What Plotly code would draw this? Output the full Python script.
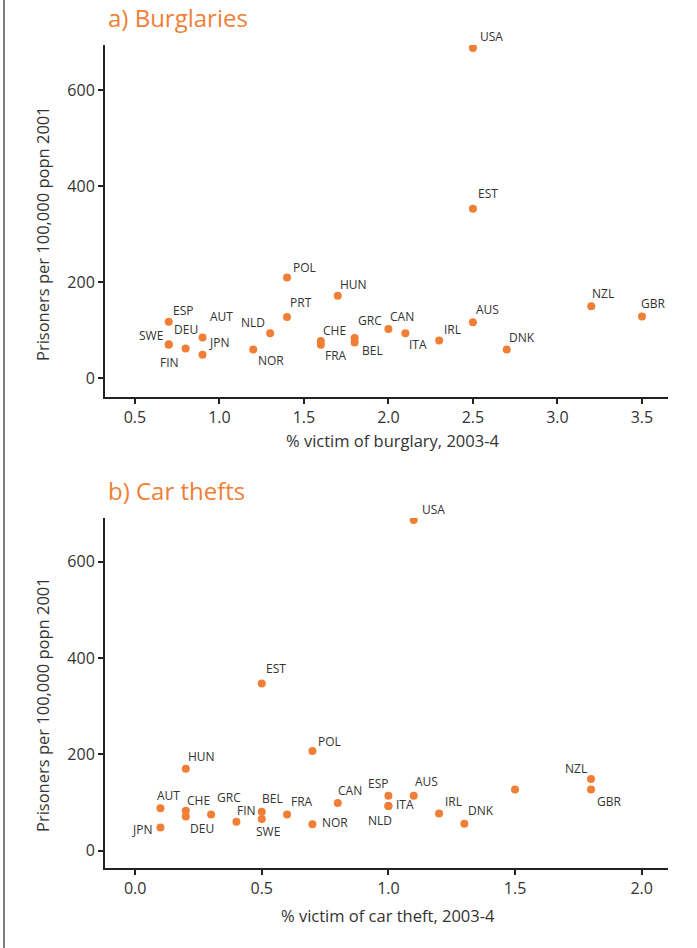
import plotly.graph_objects as go

# ---------------- data ----------------
burg_countries = ["USA", "EST", "POL", "HUN", "PRT", "ESP", "SWE", "DEU", "FIN", "AUT", "JPN",
                  "NLD", "NOR", "CHE", "FRA", "GRC", "BEL", "CAN", "ITA", "IRL", "AUS", "DNK",
                  "NZL", "GBR"]
burg_x = [2.5, 2.5, 1.4, 1.7, 1.4, 0.7, 0.7, 0.7, 0.8, 0.9, 0.9,
          1.3, 1.2, 1.6, 1.6, 1.8, 1.8, 2.0, 2.1, 2.3, 2.5, 2.7,
          3.2, 3.5]
burg_y = [688, 353, 210, 172, 128, 118, 70, 71, 62, 85, 49,
          94, 60, 78, 70, 84, 75, 103, 94, 79, 117, 60,
          150, 129]

car_countries = ["USA", "EST", "POL", "HUN", "AUT", "JPN", "CHE", "DEU", "GRC", "FIN", "BEL",
                 "SWE", "FRA", "NOR", "CAN", "ESP", "NLD", "ITA", "AUS", "IRL", "DNK", "PRT",
                 "NZL", "GBR"]
car_x = [1.1, 0.5, 0.7, 0.2, 0.1, 0.1, 0.2, 0.2, 0.3, 0.4, 0.5,
         0.5, 0.6, 0.7, 0.8, 1.0, 1.0, 1.0, 1.1, 1.2, 1.3, 1.5,
         1.8, 1.8]
car_y = [687, 347, 207, 170, 88, 48, 83, 71, 75, 60, 81,
         66, 75, 55, 99, 114, 93, 93, 114, 77, 56, 127,
         149, 127]
car_labelled = [c != "PRT" for c in car_countries]

# label offsets (pixels, right / down) relative to each point
burg_offsets = {
    "USA": (19, -11), "EST": (15, -15), "POL": (17, -10), "HUN": (16, -11), "PRT": (14, -14),
    "ESP": (14, -11), "SWE": (-18, -9), "DEU": (17, -15), "FIN": (-16, 14), "AUT": (19, -21),
    "JPN": (16, -12), "NLD": (-17, -11), "NOR": (18, 11), "CHE": (14, -10), "FRA": (15, 11),
    "GRC": (15, -18), "BEL": (18, 8), "CAN": (14, -12), "ITA": (13, 11), "IRL": (13, -11),
    "AUS": (15, -13), "DNK": (15, -12), "NZL": (12, -13), "GBR": (11, -13),
}
car_offsets = {
    "USA": (20, -10), "EST": (14, -15), "POL": (17, -10), "HUN": (16, -12), "AUT": (8, -13),
    "JPN": (-18, 2), "CHE": (13, -10), "DEU": (16, 12), "GRC": (18, -17), "FIN": (10, -11),
    "BEL": (11, -13), "SWE": (6, 13), "FRA": (15, -13), "NOR": (23, -2), "CAN": (12, -13),
    "ESP": (-10, -12), "NLD": (-8, 15), "ITA": (17, -1), "AUS": (13, -14), "IRL": (14, -12),
    "DNK": (17, -13), "PRT": (0, 0), "NZL": (-15, -10), "GBR": (18, 12),
}

# ---------------- layout geometry ----------------
W, H = 697, 948
L, R, T, B = 105, 29, 45, 80
PW, PH = W - L - R, H - T - B


def fx(p):
    return (p - L) / PW


def fy(p):
    return (H - B - p) / PH


ORANGE = "#F07F35"
TXT = "#333333"
FONT = "Open Sans"

fig = go.Figure()
fig.add_trace(go.Scatter(x=burg_x, y=burg_y, mode="markers", xaxis="x", yaxis="y",
                         marker=dict(color=ORANGE, size=8), hoverinfo="text",
                         text=burg_countries, showlegend=False))
fig.add_trace(go.Scatter(x=car_x, y=car_y, mode="markers", xaxis="x2", yaxis="y2",
                         marker=dict(color=ORANGE, size=8), hoverinfo="text",
                         text=car_countries, showlegend=False))

annotations = []
for c, x, y in zip(burg_countries, burg_x, burg_y):
    dx, dy = burg_offsets[c]
    annotations.append(dict(x=x, y=y, xref="x", yref="y", text=c, showarrow=False,
                            xshift=dx, yshift=-dy, font=dict(family=FONT, size=12, color=TXT)))
for c, x, y, lab in zip(car_countries, car_x, car_y, car_labelled):
    if not lab:
        continue
    dx, dy = car_offsets[c]
    annotations.append(dict(x=x, y=y, xref="x2", yref="y2", text=c, showarrow=False,
                            xshift=dx, yshift=-dy, font=dict(family=FONT, size=12, color=TXT)))

# panel titles
annotations.append(dict(x=fx(106), y=fy(17), xref="paper", yref="paper", text="a) Burglaries",
                        showarrow=False, xanchor="left", yanchor="middle",
                        font=dict(family=FONT, size=24, color=ORANGE)))
annotations.append(dict(x=fx(106), y=fy(490), xref="paper", yref="paper", text="b) Car thefts",
                        showarrow=False, xanchor="left", yanchor="middle",
                        font=dict(family=FONT, size=24, color=ORANGE)))
# axis titles
annotations.append(dict(x=fx(392), y=fy(440), xref="paper", yref="paper",
                        text="% victim of burglary, 2003-4", showarrow=False,
                        xanchor="center", yanchor="middle",
                        font=dict(family=FONT, size=16.5, color=TXT)))
annotations.append(dict(x=fx(388), y=fy(915), xref="paper", yref="paper",
                        text="% victim of car theft, 2003-4", showarrow=False,
                        xanchor="center", yanchor="middle",
                        font=dict(family=FONT, size=16.5, color=TXT)))
annotations.append(dict(x=fx(42), y=fy(234), xref="paper", yref="paper",
                        text="Prisoners per 100,000 popn 2001", showarrow=False, textangle=-90,
                        xanchor="center", yanchor="middle",
                        font=dict(family=FONT, size=16.5, color=TXT)))
annotations.append(dict(x=fx(42), y=fy(705), xref="paper", yref="paper",
                        text="Prisoners per 100,000 popn 2001", showarrow=False, textangle=-90,
                        xanchor="center", yanchor="middle",
                        font=dict(family=FONT, size=16.5, color=TXT)))

axis_common = dict(showgrid=False, zeroline=False, showline=True, linecolor="#222222",
                   linewidth=2, ticks="outside", ticklen=5, tickwidth=1.5, tickcolor="#222222",
                   tickfont=dict(family=FONT, size=16, color=TXT), mirror=False)

fig.update_layout(
    width=W, height=H,
    margin=dict(l=L, r=R, t=T, b=B),
    paper_bgcolor="white", plot_bgcolor="white",
    xaxis=dict(domain=[0, 1], anchor="y", range=[0.323, 3.654],
               tickvals=[0.5, 1.0, 1.5, 2.0, 2.5, 3.0, 3.5], tickformat=".1f", **axis_common),
    yaxis=dict(domain=[fy(397), 1], anchor="x", range=[-38.7, 694],
               tickvals=[0, 200, 400, 600], **axis_common),
    xaxis2=dict(domain=[0, 1], anchor="y2", range=[-0.119, 2.104],
                tickvals=[0.0, 0.5, 1.0, 1.5, 2.0], tickformat=".1f", **axis_common),
    yaxis2=dict(domain=[0, fy(518)], anchor="x2", range=[-36, 691],
                tickvals=[0, 200, 400, 600], **axis_common),
    annotations=annotations,
    shapes=[dict(type="line", xref="paper", yref="paper", x0=fx(4), x1=fx(4),
                 y0=fy(948), y1=fy(0), line=dict(color="#555555", width=1.5))],
)

fig.write_html("out.html", config={"displayModeBar": False},
               post_script="document.body.style.margin='0px';")
